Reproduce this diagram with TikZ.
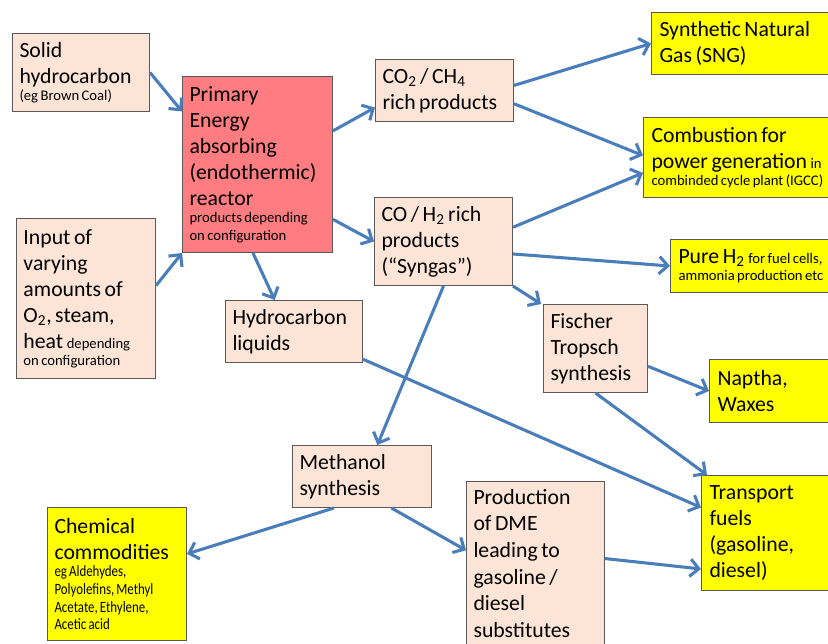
\documentclass[tikz,border=0pt]{standalone}
\usepackage{fontspec}
\setmainfont{Carlito}[WordSpace=0.72]
\newfontfamily\condfont[FakeStretch=0.82,WordSpace=0.72]{Carlito}
\usetikzlibrary{arrows.meta,calc}
\definecolor{peach}{RGB}{252,229,214}
\definecolor{redbox}{RGB}{255,124,128}
\definecolor{yelbox}{RGB}{255,255,0}
\definecolor{arrowblue}{RGB}{74,126,187}
\definecolor{edgegray}{RGB}{89,89,89}
\newcommand\smalltxt{\fontsize{11}{13}\selectfont}
\newcommand\condtxt{\condfont\fontsize{11.8}{13.2}\selectfont}
\tikzset{
  basebox/.style={draw=edgegray, line width=0.75pt, rectangle, anchor=north west, inner sep=0pt,
    execute at begin node={\spaceskip=0pt\xspaceskip=0pt\raggedright},
    font=\fontsize{16.3}{19.5}\selectfont},
  pbox/.style={basebox, fill=peach},
  rbox/.style={basebox, fill=redbox},
  ybox/.style={basebox, fill=yelbox},
  arr/.style={draw=arrowblue, line width=2.3pt, -{Straight Barb[length=6.5pt,width=13pt]}}
}
\begin{document}
\begin{tikzpicture}[x=0.75pt,y=-0.75pt]
\useasboundingbox (0,0) rectangle (828,643);
\clip (0,0) rectangle (828,643);
\fill[white] (0,0) rectangle (828,643);
% nodes
\node[pbox, minimum width=137*0.75pt, minimum height=78*0.75pt, text width=123*0.75pt] (solid) at (12,33)
  {Solid\\hydrocarbon\par{\smalltxt (eg Brown Coal)\par}};
\node[rbox, minimum width=150*0.75pt, minimum height=176*0.75pt, text width=136*0.75pt] (primary) at (182,76)
  {Primary\\Energy\\absorbing\\(endothermic)\\reactor\par{\smalltxt products depending\\on configuration\par}};
\node[pbox, minimum width=139*0.75pt, minimum height=160*0.75pt, text width=125*0.75pt] (input) at (16,218)
  {Input of\\varying\\amounts of\\O\textsubscript{2}, steam,\\heat {\smalltxt depending}\par{\smalltxt on configuration\par}};
\node[pbox, minimum width=138*0.75pt, minimum height=62*0.75pt, text width=124*0.75pt] (co2) at (375,59)
  {CO\textsubscript{2} / CH\textsubscript{4}\\rich products};
\node[pbox, minimum width=138*0.75pt, minimum height=88*0.75pt, text width=124*0.75pt] (coh2) at (374,197)
  {CO / H\textsubscript{2} rich\\products\\(“Syngas”)};
\node[pbox, minimum width=137*0.75pt, minimum height=62*0.75pt, text width=123*0.75pt] (hcl) at (225,300)
  {Hydrocarbon\\liquids};
\node[pbox, minimum width=104*0.75pt, minimum height=88*0.75pt, text width=90*0.75pt] (ft) at (543,304)
  {Fischer\\Tropsch\\synthesis};
\node[pbox, minimum width=139*0.75pt, minimum height=62*0.75pt, text width=125*0.75pt] (meth) at (292,445)
  {Methanol\\synthesis};
\node[pbox, minimum width=138*0.75pt, minimum height=164*0.75pt, text width=124*0.75pt,
  font=\fontsize{16.3}{20}\selectfont] (dme) at (466,481)
  {Production\\of DME\\leading to\\gasoline /\\diesel\\substitutes};
\node[ybox, minimum width=139*0.75pt, minimum height=133*0.75pt, text width=125*0.75pt] (chem) at (47,507)
  {Chemical\\commodities\par{\condtxt eg Aldehydes,\\Polyolefins, Methyl\\Acetate, Ethylene,\\Acetic acid\par}};
\node[ybox, minimum width=199*0.75pt, minimum height=62*0.75pt, text width=183*0.75pt] (sng) at (651,12)
  {Synthetic Natural\\Gas (SNG)};
\node[ybox, minimum width=207*0.75pt, minimum height=80*0.75pt, text width=191*0.75pt] (comb) at (643,117)
  {Combustion for\\power generation {\smalltxt in}\par{\smalltxt combinded cycle plant (IGCC)\par}};
\node[ybox, minimum width=180*0.75pt, minimum height=53*0.75pt, text width=164*0.75pt] (pureh) at (670,239)
  {Pure H\textsubscript{2} {\smalltxt for fuel cells,}\par{\smalltxt ammonia production etc\par}};
\node[ybox, minimum width=141*0.75pt, minimum height=63*0.75pt, text width=125*0.75pt] (nap) at (709,359)
  {Naptha,\\Waxes};
\node[ybox, minimum width=149*0.75pt, minimum height=115*0.75pt, text width=133*0.75pt] (trans) at (701,475)
  {Transport\\fuels\\(gasoline,\\diesel)};
% connectors
\draw[arr] (solid.east) -- ($(primary.north west)!0.2!(primary.south west)$);
\draw[arr] ($(input.north east)!0.42!(input.south east)$) -- (primary.south west);
\draw[arr] ($(primary.north east)!0.31!(primary.south east)$) -- ($(co2.north west)!0.77!(co2.south west)$);
\draw[arr] ($(primary.north east)!0.81!(primary.south east)$) -- (coh2.west);
\draw[arr] ($(primary.south west)!0.47!(primary.south east)$) -- ($(hcl.north west)!0.36!(hcl.north east)$);
\draw[arr] ($(co2.north east)!0.42!(co2.south east)$) -- (sng.west);
\draw[arr] ($(co2.north east)!0.71!(co2.south east)$) -- ($(comb.north west)!0.475!(comb.south west)$);
\draw[arr] ($(coh2.north east)!0.34!(coh2.south east)$) -- ($(comb.north west)!0.69!(comb.south west)$);
\draw[arr] ($(coh2.north east)!0.64!(coh2.south east)$) -- (pureh.west);
\draw[arr] (coh2.south east) -- ([xshift=-1.5pt]ft.north west);
\draw[arr] (coh2.south) -- ($(meth.north west)!0.61!(meth.north east)$);
\draw[arr] ($(hcl.north east)!0.94!(hcl.south east)$) -- ($(trans.north west)!0.28!(trans.south west)$);
\draw[arr] (ft.south) -- ($(trans.north west)!0.04!(trans.north east)$);
\draw[arr] ($(ft.north east)!0.7!(ft.south east)$) -- (nap.west);
\draw[arr] ($(meth.south west)!0.3!(meth.south east)$) -- ($(chem.north east)!0.35!(chem.south east)$);
\draw[arr] ($(meth.south west)!0.71!(meth.south east)$) -- ($(dme.north west)!0.42!(dme.south west)$);
\draw[arr] ($(dme.north east)!0.47!(dme.south east)$) -- ($(trans.north west)!0.81!(trans.south west)$);
\end{tikzpicture}
\end{document}
